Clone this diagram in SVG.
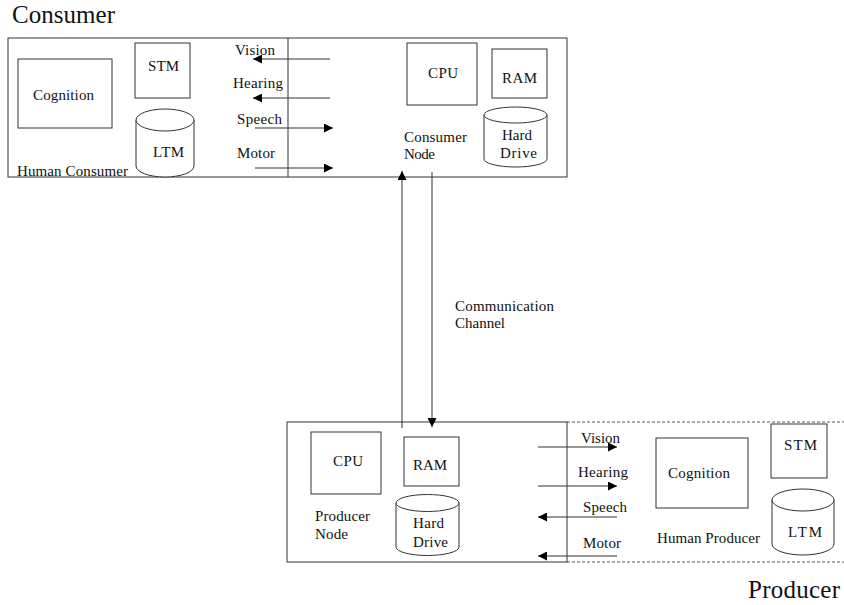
<svg xmlns="http://www.w3.org/2000/svg" width="844" height="605" viewBox="0 0 844 605">
<defs>
<marker id="ah" viewBox="0 0 10 10" refX="10" refY="5" markerWidth="9" markerHeight="9" markerUnits="userSpaceOnUse" orient="auto">
<path d="M0,0 L10,5 L0,10 Z" fill="#000"/>
</marker>
</defs>
<style>
.b{fill:#fff;stroke:#333;stroke-width:1}
.l{fill:none;stroke:#333;stroke-width:1}
.t{font-family:"Liberation Serif","Times New Roman",serif;font-size:15px;fill:#111}
.h{font-family:"Liberation Serif","Times New Roman",serif;font-size:25px;fill:#111}
.c{stroke:#333;stroke-width:1;fill:none;marker-end:url(#ah)}
.d{stroke:#555;stroke-width:1;stroke-dasharray:3,2;fill:none}
</style>
<rect width="844" height="605" fill="#fff"/>

<g id="consumer-title"><text class="h" x="12" y="23" textLength="103" lengthAdjust="spacing">Consumer</text></g>
<g id="producer-title"><text class="h" x="748" y="598" textLength="92" lengthAdjust="spacing">Producer</text></g>

<g id="consumer-frame">
<rect class="b" x="8" y="38" width="559" height="139"/>
<line class="l" x1="288" y1="38" x2="288" y2="177"/>
<text class="t" x="17" y="176" textLength="111" lengthAdjust="spacing">Human Consumer</text>
</g>
<g id="consumer-cognition">
<rect class="b" x="18" y="59" width="94" height="69"/>
<text class="t" x="33" y="100" textLength="61" lengthAdjust="spacing">Cognition</text>
</g>
<g id="consumer-stm">
<rect class="b" x="135" y="43" width="55" height="55"/>
<text class="t" x="148" y="71" textLength="31" lengthAdjust="spacing">STM</text>
</g>
<g id="consumer-ltm">
<path class="b" d="M136,120 L136,166 A29,11 0 0 0 194,166 L194,120"/>
<ellipse class="b" cx="165" cy="120" rx="29" ry="11"/>
<text class="t" x="153" y="157" textLength="31" lengthAdjust="spacing">LTM</text>
</g>
<g id="consumer-node-label">
<text class="t" x="404" y="142" textLength="63" lengthAdjust="spacing">Consumer</text>
<text class="t" x="404" y="159" textLength="31" lengthAdjust="spacing">Node</text>
</g>
<g id="consumer-cpu">
<rect class="b" x="407" y="43" width="70" height="62"/>
<text class="t" x="428" y="78" textLength="30" lengthAdjust="spacing">CPU</text>
</g>
<g id="consumer-ram">
<rect class="b" x="492" y="49" width="55" height="49"/>
<text class="t" x="502" y="83" textLength="35" lengthAdjust="spacing">RAM</text>
</g>
<g id="consumer-harddrive">
<path class="b" d="M484,115 L484,159 A31.5,8 0 0 0 547,159 L547,115"/>
<ellipse class="b" cx="515.5" cy="115" rx="31.5" ry="8"/>
<text class="t" x="502" y="140" textLength="30" lengthAdjust="spacing">Hard</text>
<text class="t" x="500" y="158" textLength="37" lengthAdjust="spacing">Drive</text>
</g>
<g id="consumer-io-labels">
<text class="t" x="235" y="55" textLength="40" lengthAdjust="spacing">Vision</text>
<text class="t" x="233" y="88" textLength="50" lengthAdjust="spacing">Hearing</text>
<text class="t" x="237" y="124" textLength="45" lengthAdjust="spacing">Speech</text>
<text class="t" x="237" y="158" textLength="38" lengthAdjust="spacing">Motor</text>
</g>

<g id="producer-frame">
<rect class="b" x="287" y="422" width="280" height="140"/>
<line class="d" x1="567" y1="422" x2="844" y2="422"/>
<line class="d" x1="567" y1="562" x2="844" y2="562"/>
</g>
<g id="producer-cpu">
<rect class="b" x="311" y="432" width="70" height="62"/>
<text class="t" x="333" y="466" textLength="30" lengthAdjust="spacing">CPU</text>
</g>
<g id="producer-ram">
<rect class="b" x="404" y="437" width="55" height="49"/>
<text class="t" x="413" y="470" textLength="34" lengthAdjust="spacing">RAM</text>
</g>
<g id="producer-harddrive">
<path class="b" d="M396,503 L396,547 A31.5,8.5 0 0 0 459,547 L459,503"/>
<ellipse class="b" cx="427.5" cy="503" rx="31.5" ry="8.5"/>
<text class="t" x="413" y="528" textLength="31" lengthAdjust="spacing">Hard</text>
<text class="t" x="413" y="547" textLength="35" lengthAdjust="spacing">Drive</text>
</g>
<g id="producer-node-label">
<text class="t" x="315" y="521" textLength="55" lengthAdjust="spacing">Producer</text>
<text class="t" x="315" y="539" textLength="33" lengthAdjust="spacing">Node</text>
</g>
<g id="producer-io-labels">
<text class="t" x="581" y="443" textLength="39" lengthAdjust="spacing">Vision</text>
<text class="t" x="578" y="477" textLength="50" lengthAdjust="spacing">Hearing</text>
<text class="t" x="583" y="512" textLength="44" lengthAdjust="spacing">Speech</text>
<text class="t" x="583" y="548" textLength="38" lengthAdjust="spacing">Motor</text>
</g>
<g id="producer-cognition">
<rect class="b" x="656" y="438" width="92" height="70"/>
<text class="t" x="668" y="478" textLength="62" lengthAdjust="spacing">Cognition</text>
</g>
<g id="producer-stm">
<rect class="b" x="771" y="424" width="56" height="54"/>
<text class="t" x="784" y="450" textLength="33" lengthAdjust="spacing">STM</text>
</g>
<g id="producer-ltm">
<path class="b" d="M772,500 L772,544 A31,11 0 0 0 834,544 L834,500"/>
<ellipse class="b" cx="803" cy="500" rx="31" ry="11"/>
<text class="t" x="788" y="537" textLength="34" lengthAdjust="spacing">LTM</text>
</g>
<g id="producer-human-label">
<text class="t" x="657" y="543" textLength="103" lengthAdjust="spacing">Human Producer</text>
</g>

<g id="channel-label">
<text class="t" x="455" y="311" textLength="99" lengthAdjust="spacing">Communication</text>
<text class="t" x="455" y="328" textLength="50" lengthAdjust="spacing">Channel</text>
</g>

<g id="connectors">
<line class="c" x1="330" y1="59" x2="253" y2="59"/>
<line class="c" x1="330" y1="98" x2="253" y2="98"/>
<line class="c" x1="255" y1="128" x2="333" y2="128"/>
<line class="c" x1="255" y1="168" x2="333" y2="168"/>
<line class="c" x1="402" y1="428" x2="402" y2="171"/>
<line class="c" x1="432" y1="172" x2="432" y2="427"/>
<line class="c" x1="538" y1="447" x2="617" y2="447"/>
<line class="c" x1="538" y1="486" x2="617" y2="486"/>
<line class="c" x1="617" y1="517" x2="538" y2="517"/>
<line class="c" x1="617" y1="556" x2="538" y2="556"/>
</g>
</svg>
